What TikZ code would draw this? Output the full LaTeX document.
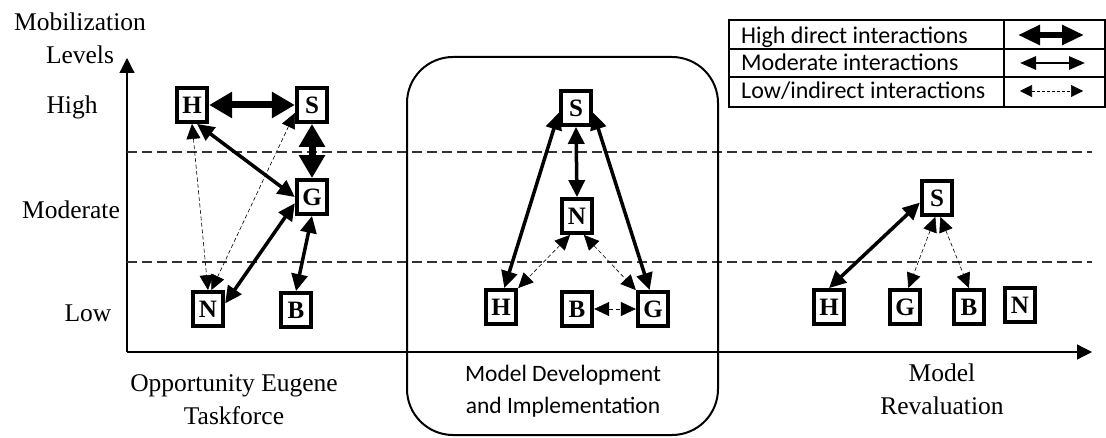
\documentclass[tikz,border=0pt]{standalone}
\usepackage{fontspec}
\setmainfont{Liberation Serif}
\newfontfamily\carl{Carlito}
\usetikzlibrary{arrows.meta}
\begin{document}
\begin{tikzpicture}[x=1pt,y=-1pt,
  box/.style={draw, line width=3.8pt, minimum width=30.5pt, minimum height=34pt, inner sep=0pt, fill=white, font=\fontsize{25}{27}\selectfont\bfseries},
  lbl/.style={font=\fontsize{25.5}{33}\selectfont, align=center, inner sep=0pt},
  calbl/.style={font=\carl\fontsize{23.5}{32}\selectfont, align=center, inner sep=0pt},
  legtxt/.style={font=\carl\fontsize{24}{26}\selectfont, anchor=base west, inner sep=0pt},
  hi/.style={line width=7pt, {Triangle[length=23pt,width=25pt]}-{Triangle[length=23pt,width=25pt]}},
  mod/.style={line width=3.5pt, {Triangle[length=17pt,width=16pt]}-{Triangle[length=17pt,width=16pt]}},
  low/.style={line width=0.6pt, dash pattern=on 4pt off 2.5pt, {Triangle[length=15pt,width=14pt]}-{Triangle[length=15pt,width=14pt]}},
  axis/.style={line width=1.2pt, -{Triangle[length=15pt,width=15pt]}},
  lvl/.style={line width=1.3pt, dash pattern=on 10pt off 5pt, draw=black!80},
  tbl/.style={line width=1.2pt}
]
\useasboundingbox (0,0) rectangle (1106,438);

% axes
\coordinate (O) at (127,352);
\coordinate (Ytip) at (127,58);
\coordinate (Xtip) at (1092,352);
\draw[axis] (O) -- (Ytip);
\draw[axis] (O) -- (Xtip);

% level separators
\coordinate (d1a) at (127,152); \coordinate (d1b) at (1092,152);
\coordinate (d2a) at (127,262); \coordinate (d2b) at (1092,262);
\draw[lvl] (d1a) -- (d1b);
\draw[lvl] (d2a) -- (d2b);

% middle panel frame
\draw[line width=2pt, rounded corners=46pt] (407,57) rectangle (718,435);

% labels
\node[lbl] (ylab) at (80,38) {Mobilization\\Levels};
\node[lbl] (lhigh) at (72,107) {High};
\node[lbl] (lmod) at (71,210) {Moderate};
\node[lbl] (llow) at (88,313) {Low};
\node[lbl] (p1) at (234,400) {Opportunity Eugene\\Taskforce};
\node[calbl] (p2) at (563,391) {Model Development\\and Implementation};
\node[lbl] (p3) at (942,389) {Model\\Revaluation};

% panel 1
\node[box] (H1) at (192,105) {H};
\node[box] (S1) at (312,105) {S};
\node[box] (G1) at (312,197) {G};
\node[box] (N1) at (208,309) {N};
\node[box] (B1) at (296,310) {B};
\draw[hi] (H1) -- (S1);
\draw[hi] (S1) -- (G1);
\draw[mod] (H1.-75) -- (G1.west);
\draw[mod] (G1.200) -- (N1.18);
\draw[mod] (G1.south) -- (B1.north);
\draw[low] (H1.south) -- (N1.north);
\draw[low] (S1.205) -- (N1.80);

% panel 2
\node[box] (S2) at (576,108) {S};
\node[box] (N2) at (577,216) {N};
\node[box] (H2) at (501,307) {H};
\node[box] (B2) at (577,309) {B};
\node[box] (G2) at (653,309) {G};
\draw[mod] (S2.195) -- (H2.80);
\draw[mod] (S2.south) -- (N2.north);
\draw[mod] (S2.-15) -- (G2.100);
\draw[low] (N2.250) -- (H2.north east);
\draw[low] (N2.290) -- (G2.north west);
\draw[low] (B2.east) -- (G2.west);

% panel 3
\node[box] (S3) at (937,198) {S};
\node[box] (H3) at (829,307) {H};
\node[box] (G3) at (905,307) {G};
\node[box] (B3) at (969,307) {B};
\node[box] (N3) at (1020,305) {N};
\draw[mod] (S3.195) -- (H3.north);
\draw[low] (S3.-95) -- (G3.80);
\draw[low] (S3.-80) -- (B3.north);

% legend
\draw[tbl] (729,20) rectangle (1105,107);
\draw[tbl] (729,49) -- (1105,49);
\draw[tbl] (729,77) -- (1105,77);
\draw[tbl] (1004,20) -- (1004,107);
\node[legtxt] (t1) at (741,44) {High direct interactions};
\node[legtxt] (t2) at (741,71) {Moderate interactions};
\node[legtxt] (t3) at (741,99) {Low/indirect interactions};
\coordinate (a1) at (1018,35); \coordinate (b1) at (1084,35);
\coordinate (a2) at (1020,63); \coordinate (b2) at (1085,63);
\coordinate (a3) at (1020,91); \coordinate (b3) at (1083,91);
\draw[line width=5.5pt, {Triangle[length=22pt,width=19pt]}-{Triangle[length=22pt,width=19pt]}] (a1) -- (b1);
\draw[line width=2.8pt, {Triangle[length=16pt,width=13pt]}-{Triangle[length=16pt,width=13pt]}] (a2) -- (b2);
\draw[line width=0.6pt, dash pattern=on 3pt off 2pt, {Triangle[length=12pt,width=12pt]}-{Triangle[length=12pt,width=12pt]}] (a3) -- (b3);
\end{tikzpicture}
\end{document}
